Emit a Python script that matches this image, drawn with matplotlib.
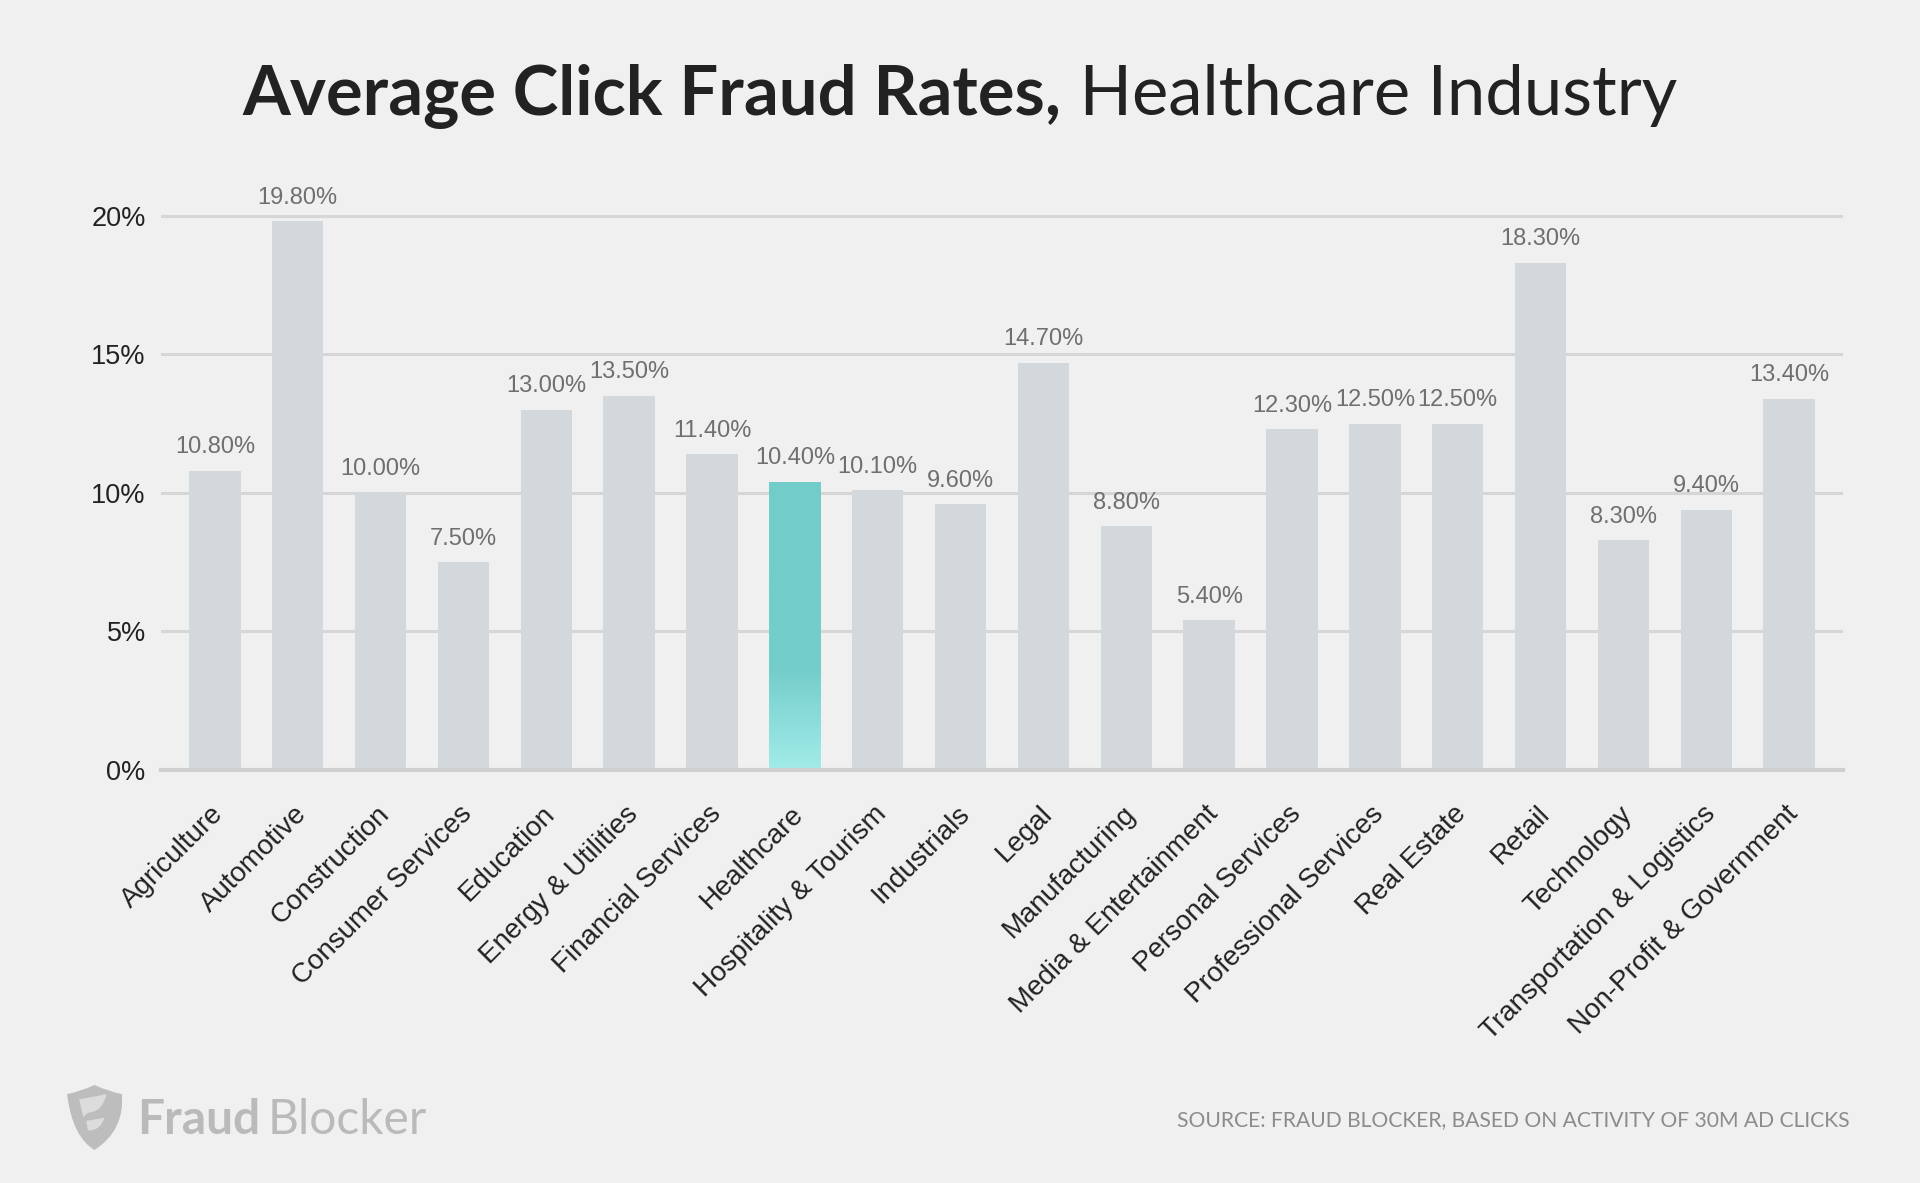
import matplotlib
matplotlib.use('Agg')

import numpy as np
import matplotlib.pyplot as plt
from matplotlib.colors import LinearSegmentedColormap
from matplotlib.path import Path
from matplotlib.patches import PathPatch
from matplotlib.transforms import ScaledTranslation

# data
industries = [
    "Agriculture", "Automotive", "Construction", "Consumer Services",
    "Education", "Energy & Utilities", "Financial Services", "Healthcare",
    "Hospitality & Tourism", "Industrials", "Legal", "Manufacturing",
    "Media & Entertainment", "Personal Services", "Professional Services",
    "Real Estate", "Retail", "Technology", "Transportation & Logistics",
    "Non-Profit & Government",
]
fraud_rates = [10.8, 19.8, 10.0, 7.5, 13.0, 13.5, 11.4, 10.4, 10.1, 9.6,
               14.7, 8.8, 5.4, 12.3, 12.5, 12.5, 18.3, 8.3, 9.4, 13.4]
y_ticks = [0, 5, 10, 15, 20]
y_tick_labels = ["0%", "5%", "10%", "15%", "20%"]
highlight = "Healthcare"

BG = "#f0f0f0"
BAR = "#d3d8dc"
LABEL_FONT = ["Liberation Sans", "DejaVu Sans"]
TITLE_FONT = ["Lato", "DejaVu Sans"]

W, H = 1920, 1183
fig = plt.figure(figsize=(W / 100, H / 100), dpi=100, facecolor=BG)

# axes placed in pixel terms of the reference
left, right, top, bottom = 161, 1843, 202, 770
ax = fig.add_axes([left / W, (H - bottom) / H, (right - left) / W, (bottom - top) / H])
ax.set_facecolor(BG)

x = np.arange(len(industries))
bars = ax.bar(x, fraud_rates, width=0.62, color=BAR, zorder=2)

# gradient fill for the highlighted bar
grad = LinearSegmentedColormap.from_list(
    "teal", [(0.0, "#a2ece9"), (0.35, "#74cdca"), (1.0, "#72cdca")])
for name, b in zip(industries, bars):
    if name == highlight:
        b.set_facecolor("#72cdca")
        bx, bw, bh = b.get_x(), b.get_width(), b.get_height()
        img = ax.imshow(np.linspace(0, 1, 256).reshape(-1, 1), cmap=grad,
                        origin="lower", aspect="auto",
                        extent=[bx, bx + bw, 0, bh], zorder=3)
        img.set_clip_path(b)

for xi, v in zip(x, fraud_rates):
    ax.annotate(f"{v:.2f}%", xy=(xi, v), xytext=(0, 9), textcoords="offset points",
                ha="center", va="bottom", fontsize=17, color="#6f6f6f",
                family=LABEL_FONT, zorder=4)

ax.set_xlim(-0.65, len(industries) - 0.35)
ax.set_ylim(0, 20.5)
ax.set_yticks(y_ticks)
ax.set_yticklabels(y_tick_labels, fontsize=19.5, color="#222222", family=LABEL_FONT)
ax.set_xticks(x)
ax.set_xticklabels(industries, rotation=45, ha="right", va="center",
                   rotation_mode="anchor", fontsize=20, color="#222222",
                   family=LABEL_FONT)
ax.tick_params(axis="y", length=0, pad=11)
ax.tick_params(axis="x", length=0, pad=29)
# nudge the rotated labels a little to the right
shift = ScaledTranslation(5 / 100, 0, fig.dpi_scale_trans)
for lbl in ax.get_xticklabels():
    lbl.set_transform(lbl.get_transform() + shift)

ax.grid(axis="y", color="#d6d6d6", linewidth=2.2, zorder=0)
ax.set_axisbelow(True)
for side in ["top", "right", "left"]:
    ax.spines[side].set_visible(False)
ax.spines["bottom"].set_color("#cfcfcf")
ax.spines["bottom"].set_linewidth(3)
ax.spines["bottom"].set_zorder(5)

# title: bold part + regular part, centred together
renderer = fig.canvas.get_renderer()
title_y = (H - 115) / H
t1 = fig.text(0, title_y, "Average Click Fraud Rates,", fontsize=49.5,
              fontweight="bold", color="#222222", family=TITLE_FONT, va="baseline")
t2 = fig.text(0, title_y, " Healthcare Industry", fontsize=49.5,
              color="#222222", family=TITLE_FONT, va="baseline")
w1 = t1.get_window_extent(renderer).width
w2 = t2.get_window_extent(renderer).width
start = (W - (w1 + w2)) / 2
t1.set_x(start / W)
t2.set_x((start + w1) / W)

# logo: shield icon + wordmark
logo_ax = fig.add_axes([67 / W, (H - 1150) / H, 55 / W, 65 / H])
logo_ax.set_xlim(0, 1)
logo_ax.set_ylim(0, 1)
logo_ax.axis("off")
shield = Path(
    [(0.0, 0.86), (0.25, 0.9), (0.5, 1.0), (0.75, 0.9), (1.0, 0.86),
     (1.05, 0.3), (0.5, 0.0), (0.1, 0.2), (0.0, 0.86)],
    [Path.MOVETO, Path.CURVE3, Path.CURVE3, Path.CURVE3, Path.CURVE3,
     Path.CURVE3, Path.CURVE3, Path.CURVE3, Path.CURVE3])
logo_ax.add_patch(PathPatch(shield, facecolor="#bdbdbd", edgecolor="none"))
notch = Path(
    [(0.22, 0.78), (0.55, 0.83), (0.72, 0.86), (0.65, 0.6), (0.42, 0.58),
     (0.35, 0.57), (0.3, 0.5), (0.22, 0.78)],
    [Path.MOVETO, Path.CURVE3, Path.CURVE3, Path.CURVE3, Path.CURVE3,
     Path.CURVE3, Path.CURVE3, Path.CLOSEPOLY])
logo_ax.add_patch(PathPatch(notch, facecolor="#dcdcdc", edgecolor="none"))
notch2 = Path(
    [(0.35, 0.45), (0.55, 0.47), (0.68, 0.5), (0.62, 0.3), (0.38, 0.3),
     (0.35, 0.45)],
    [Path.MOVETO, Path.CURVE3, Path.CURVE3, Path.CURVE3, Path.CURVE3,
     Path.CLOSEPOLY])
logo_ax.add_patch(PathPatch(notch2, facecolor="#dcdcdc", edgecolor="none"))

logo_y = (H - 1134) / H
f1 = fig.text(137 / W, logo_y, "Fraud", fontsize=34.5, fontweight="bold",
              color="#bababa", family=TITLE_FONT, va="baseline")
f1w = f1.get_window_extent(renderer).width
fig.text((137 + f1w + 8) / W, logo_y, "Blocker", fontsize=34.5, color="#bababa",
         family=TITLE_FONT, va="baseline")

fig.text(1850 / W, (H - 1126) / H,
         "SOURCE: FRAUD BLOCKER, BASED ON ACTIVITY OF 30M AD CLICKS",
         fontsize=15.2, color="#8c8c8c", family=TITLE_FONT, ha="right",
         va="baseline")

fig.savefig("out.png", dpi=100, facecolor=BG)
